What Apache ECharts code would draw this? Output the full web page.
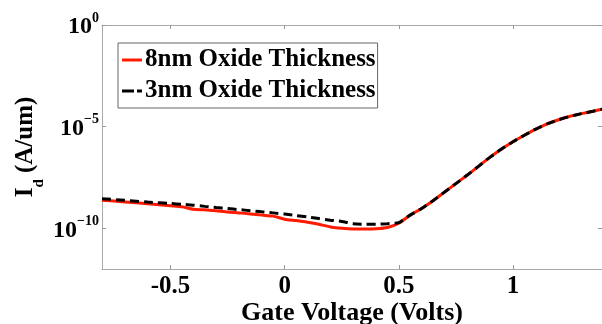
<!DOCTYPE html>
<html>
<head>
<meta charset="utf-8">
<script src="https://cdn.jsdelivr.net/npm/echarts@6/dist/echarts.min.js"></script>
<style>
  html, body { margin: 0; padding: 0; background: #fff; }
  #chart { width: 602px; height: 324px; }
</style>
</head>
<body>
<div id="chart"></div>
<script>
// gate voltage (V)
var gateVoltage = [-0.8, -0.7, -0.6, -0.5, -0.45, -0.4, -0.35, -0.3, -0.25, -0.2, -0.15, -0.1, -0.05, 0,
  0.05, 0.1, 0.15, 0.2, 0.25, 0.3, 0.35, 0.4, 0.45, 0.5, 0.55, 0.6, 0.65, 0.7, 0.75, 0.8,
  0.85, 0.9, 0.95, 1.0, 1.05, 1.1, 1.15, 1.2, 1.25, 1.3, 1.35, 1.4];
// log10 of Id (A/um)
var logId8nm = [-8.62, -8.70, -8.79, -8.89, -8.94, -9.06, -9.09, -9.14, -9.20, -9.24, -9.29, -9.35, -9.40, -9.55,
  -9.62, -9.70, -9.80, -9.93, -10.00, -10.03, -10.03, -10.02, -9.96, -9.75, -9.35, -9.02, -8.64, -8.22, -7.80, -7.38,
  -6.94, -6.50, -6.10, -5.74, -5.42, -5.12, -4.86, -4.66, -4.49, -4.36, -4.24, -4.12];
var logId3nm = [-8.54, -8.62, -8.71, -8.78, -8.82, -8.86, -8.92, -8.98, -9.03, -9.08, -9.13, -9.19, -9.24, -9.30,
  -9.37, -9.44, -9.52, -9.60, -9.66, -9.77, -9.80, -9.80, -9.77, -9.72, -9.35, -9.02, -8.64, -8.22, -7.80, -7.38,
  -6.94, -6.50, -6.10, -5.74, -5.42, -5.12, -4.86, -4.66, -4.49, -4.36, -4.24, -4.12];
var xTicks = [-0.5, 0, 0.5, 1];
var yTicks = [-10, -5, 0];

var serif = '"Liberation Serif", "Times New Roman", serif';

function pairs(xs, ys) {
  var out = [];
  for (var i = 0; i < xs.length; i++) out.push([xs[i], ys[i]]);
  return out;
}

var dom = document.getElementById("chart");
var myChart = echarts.init(dom);

var tickStyle = { show: true, inside: true, length: 4, lineStyle: { color: "#999" } };
var axisLineStyle = { show: true, onZero: false, lineStyle: { color: "#aaa", width: 1 } };

var option = {
  animation: false,
  grid: { left: 102, top: 25, right: 0, bottom: 55, containLabel: false, outerBoundsMode: "none" },
  legend: {
    orient: "vertical",
    left: 118,
    top: 43,
    padding: [3, 2, 3, 4],
    itemGap: 3,
    itemWidth: 20,
    itemHeight: 3,
    backgroundColor: "#fff",
    borderColor: "#666",
    borderWidth: 1,
    borderRadius: 0,
    textStyle: { fontFamily: serif, fontWeight: "bold", fontSize: 25, lineHeight: 28, color: "#000", padding: [0, 0, 0, -2] },
    data: [
      { name: "8nm Oxide Thickness", icon: "path://M0,0H20V3H0Z" },
      { name: "3nm Oxide Thickness", icon: "path://M0,0H12V3H0Z M15,0H20V3H15Z" }
    ]
  },
  xAxis: [
    {
      type: "value",
      min: -0.8,
      max: 1.39,
      position: "bottom",
      name: "Gate Voltage (Volts)",
      nameLocation: "middle",
      nameGap: 31,
      nameMoveOverlap: false,
      nameTextStyle: { fontFamily: serif, fontWeight: "bold", fontSize: 26, color: "#000" },
      axisLine: axisLineStyle,
      axisTick: Object.assign({ customValues: xTicks }, tickStyle),
      axisLabel: {
        customValues: xTicks,
        margin: 5,
        fontFamily: serif, fontWeight: "bold", fontSize: 25, lineHeight: 25, color: "#000",
        formatter: function (v) { return String(v); }
      },
      splitLine: { show: false }
    },
    {
      type: "value",
      min: -0.8,
      max: 1.39,
      position: "top",
      axisLine: axisLineStyle,
      axisTick: Object.assign({ customValues: xTicks }, tickStyle),
      axisLabel: { show: false },
      splitLine: { show: false }
    }
  ],
  yAxis: [
    {
      type: "value",
      min: -12,
      max: 0,
      position: "left",
      name: "{a|I}{s|d}{a| (A/um)}",
      nameLocation: "middle",
      nameGap: 55,
      nameMoveOverlap: false,
      nameRotate: 90,
      nameTextStyle: {
        rich: {
          a: { fontFamily: serif, fontWeight: "bold", fontSize: 25, color: "#000", lineHeight: 18, verticalAlign: "top" },
          s: { fontFamily: serif, fontWeight: "bold", fontSize: 15, color: "#000", lineHeight: 34, verticalAlign: "bottom" }
        }
      },
      axisLine: axisLineStyle,
      axisTick: Object.assign({ customValues: yTicks }, tickStyle),
      axisLabel: {
        customValues: yTicks,
        margin: 3,
        formatter: function (v) { return "{b|10}{s|" + String(v).replace("-", "\u2212") + "}"; },
        rich: {
          b: { fontFamily: serif, fontWeight: "bold", fontSize: 24, color: "#000", lineHeight: 28, verticalAlign: "bottom" },
          s: { fontFamily: serif, fontWeight: "bold", fontSize: 14, color: "#000", lineHeight: 14, verticalAlign: "top" }
        }
      },
      splitLine: { show: false }
    },
    {
      type: "value",
      min: -12,
      max: 0,
      position: "right",
      axisLine: axisLineStyle,
      axisTick: Object.assign({ customValues: yTicks }, tickStyle),
      axisLabel: { show: false },
      splitLine: { show: false }
    }
  ],
  series: [
    {
      name: "8nm Oxide Thickness",
      type: "line",
      symbol: "none",
      smooth: 0.2,
      lineStyle: { color: "#ff1a00", width: 3 },
      itemStyle: { color: "#ff1a00" },
      data: pairs(gateVoltage, logId8nm)
    },
    {
      name: "3nm Oxide Thickness",
      type: "line",
      symbol: "none",
      smooth: 0.2,
      lineStyle: { color: "#000", width: 3, type: [9, 5] },
      itemStyle: { color: "#000" },
      data: pairs(gateVoltage, logId3nm)
    }
  ]
};

myChart.setOption(option);
window.addEventListener("resize", myChart.resize);
</script>
</body>
</html>
